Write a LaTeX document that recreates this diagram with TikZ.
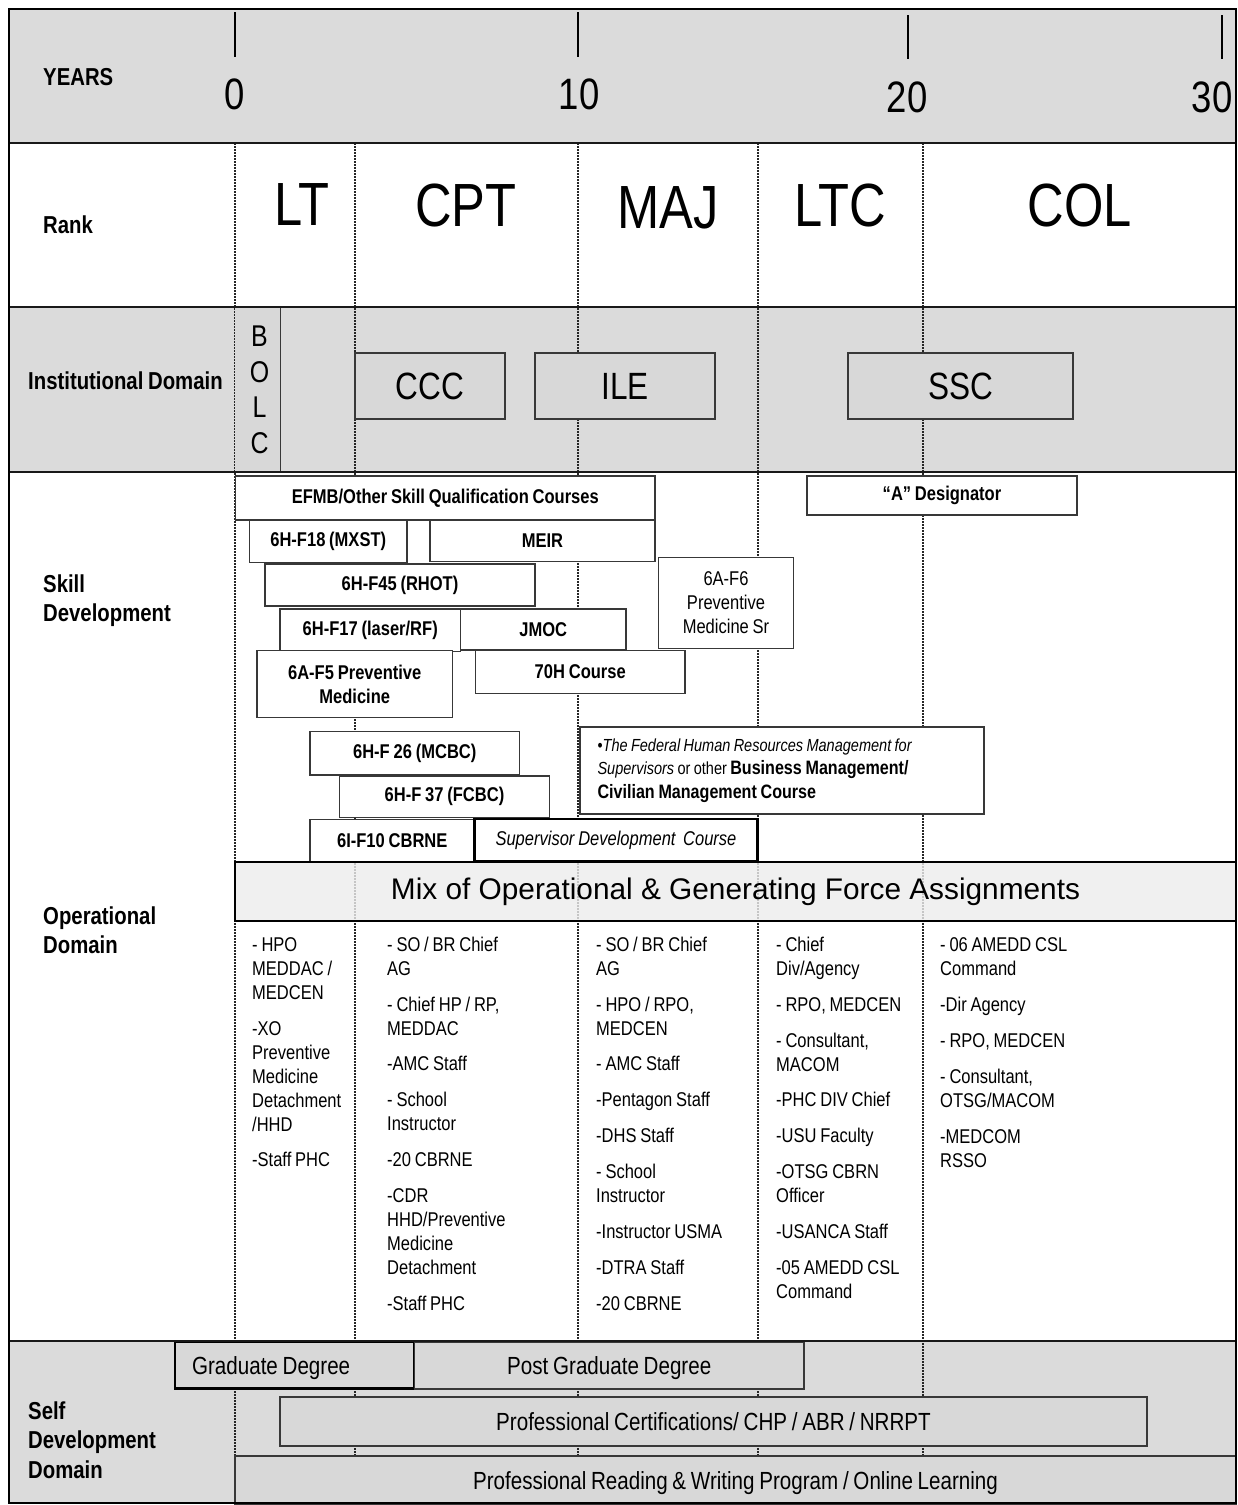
\documentclass[tikz,border=0pt]{standalone}
\usepackage{fontspec}
\setmainfont[FakeStretch=0.83, WordSpace=0.83]{Liberation Sans}
\newfontfamily\widefont{Liberation Sans}
\newcommand\myfs[2]{\fontsize{#1pt}{#2pt}\selectfont}
\newcommand\bx[7]{\node[#6, minimum width={(#4-#2)*1pt}, minimum height={(#5-#3)*1pt}] (#1) at ({(#2+#4)/2},{(#3+#5)/2}) {#7};}
\definecolor{rowgray}{HTML}{DBDBDB}
\definecolor{boxgray}{HTML}{D8D8D8}
\definecolor{bargray}{HTML}{EDEDED}
\definecolor{edgec}{HTML}{383838}
\begin{document}
\begin{tikzpicture}[x=1pt,y=-1pt,
  lbl/.style={anchor=west, align=left, inner sep=0pt, font=\myfs{24.5}{29.5}\bfseries},
  rnk/.style={inner sep=0pt, font=\myfs{61}{61}},
  yrnum/.style={inner sep=0pt, font=\myfs{44}{44}},
  yrline/.style={line width=1.2pt, dash pattern=on 1.6pt off 1.4pt, black!85},
  rowsep/.style={line width=2.5pt, black!90},
  instb/.style={draw=edgec, line width=1.3pt, fill=boxgray, font=\myfs{38}{38}},
  skb/.style={draw=edgec, line width=1.3pt, fill=white, font=\myfs{19.9}{24}\bfseries, align=center},
  opl/.style={anchor=base west, inner sep=0pt, font=\myfs{19.9}{24}},
  sdb/.style={draw=edgec, line width=1.3pt, fill=boxgray, font=\myfs{24.8}{24}, text depth=0pt},
]
\useasboundingbox (0,0) rectangle (1238,1505);
% row backgrounds
\fill[rowgray] (9,9) rectangle (1236,143);
\fill[white] (9,143) rectangle (1236,307);
\fill[rowgray] (9,307) rectangle (1236,472);
\fill[white] (9,472) rectangle (1236,1341);
\fill[rowgray] (9,1341) rectangle (1236,1503);
% dotted year lines
\foreach \gx in {235,355,578,758,923} \draw[yrline] (\gx,143) -- (\gx,1503);
% ticks
\foreach \tx/\ta/\tb in {235/12/57, 578/12/57, 908/15/59, 1222/15/59} \draw[line width=2pt] (\tx,\ta) -- (\tx,\tb);
% year numbers
\node[yrnum] (y0) at (235,94) {0};
\node[yrnum] (y10) at (579,94) {10};
\node[yrnum] (y20) at (907,97.5) {20};
\node[yrnum] (y30) at (1212,97.5) {30};
% labels
\node[lbl] (lyears) at (43,77) {YEARS};
\node[lbl] (lrank) at (43,225) {Rank};
\node[lbl] (linst) at (28,381) {Institutional Domain};
\node[lbl] (lskill) at (43,600.5) {Skill\\Development};
\node[lbl] (lop) at (43,930) {Operational\\Domain};
\node[lbl] (lself) at (28,1440) {Self\\Development\\Domain};
% ranks
\node[rnk] (lt) at (302,205) {LT};
\node[rnk] (cpt) at (466,205) {CPT};
\node[rnk] (maj) at (668,208) {MAJ};
\node[rnk] (ltc) at (840,205) {LTC};
\node[rnk] (col) at (1080,205) {COL};
% institutional
\bx{bolc}{235}{308}{280}{471}{fill=boxgray, font=\myfs{30}{35.5}, align=center, text depth=0pt}{\hspace*{4pt}B\\\hspace*{4pt}O\\\hspace*{4pt}L\\\hspace*{4pt}C}
\draw[draw=edgec, line width=1.3pt] (bolc.north west) -- (bolc.north east) -- (bolc.south east) -- (bolc.south west);
\draw[yrline] (bolc.north west) -- (bolc.south west);
\bx{ccc}{355}{353}{505}{419}{instb}{CCC}
\bx{ile}{535}{353}{715}{419}{instb}{ILE}
\bx{ssc}{848}{353}{1073}{419}{instb}{SSC}
% skill development
\bx{efmb}{235.5}{476}{655}{520}{skb}{EFMB/Other Skill Qualification Courses}
\bx{adesig}{807}{476}{1077}{515}{skb}{“A” Designator}
\bx{mxst}{249.5}{520}{407}{562.5}{skb}{6H-F18 (MXST)}
\bx{meir}{430}{520}{655}{561.5}{skb}{MEIR}
\bx{rhot}{265}{564}{535}{606}{skb}{6H-F45 (RHOT)}
\bx{laser}{280}{609}{460.5}{651.5}{skb}{6H-F17 (laser/RF)}
\bx{jmoc}{460.5}{609}{626}{650}{skb}{JMOC}
\bx{pmsr}{658.5}{557.5}{793.5}{648.5}{skb, font=\myfs{19.9}{24}}{6A-F6\\Preventive\\Medicine Sr}
\bx{pm}{257}{650.5}{452.5}{717.5}{skb}{6A-F5 Preventive\\Medicine}
\bx{c70h}{475.5}{650.5}{685}{693.5}{skb}{70H Course}
\bx{mcbc}{310}{731.5}{519.5}{775}{skb}{6H-F 26 (MCBC)}
\bx{fcbc}{339.5}{776}{549.5}{817.5}{skb}{6H-F 37 (FCBC)}
\bx{fhr}{580}{727}{984}{814}{skb}{}
\node[anchor=west, align=left, inner sep=0pt, font=\myfs{17.5}{23.5}] (fhrtext) at ([xshift=18pt]fhr.west) {•\textit{The Federal Human Resources Management for}\\\textit{Supervisors} or other {\myfs{19.4}{23.5}\bfseries Business Management/}\\{\myfs{19.4}{23.5}\bfseries Civilian Management Course}};
\bx{cbrne}{310}{819.5}{474.5}{861.5}{skb}{6I-F10 CBRNE}
\bx{sdc}{474.5}{819}{757.5}{861}{skb, draw=black, line width=2.3pt, font=\myfs{19.9}{24}\itshape}{Supervisor Development\ \ Course}
% operational
\bx{mix}{235}{862}{1236}{921}{draw=black, line width=2.5pt, fill=bargray, fill opacity=0.8, text opacity=1, font=\widefont\myfs{29.8}{29.8}}{Mix of Operational \& Generating Force Assignments}
\foreach \y/\t [count=\i] in {945/{- HPO}, 969/{MEDDAC /}, 993/{MEDCEN}, 1029/{-XO}, 1053/{Preventive}, 1077/{Medicine}, 1101/{Detachment}, 1125/{/HHD}, 1160/{-Staff PHC}}
  \node[opl] (ca\i) at (252,\y+6.5) {\t};
\foreach \y/\t [count=\i] in {945/{- SO / BR Chief}, 969/{AG}, 1005/{- Chief HP / RP,}, 1029/{MEDDAC}, 1064/{-AMC Staff}, 1100/{- School}, 1124/{Instructor}, 1160/{-20 CBRNE}, 1196/{-CDR}, 1220/{HHD/Preventive}, 1244/{Medicine}, 1268/{Detachment}, 1304/{-Staff PHC}}
  \node[opl] (cb\i) at (387,\y+6.5) {\t};
\foreach \y/\t [count=\i] in {945/{- SO / BR Chief}, 969/{AG}, 1005/{- HPO / RPO,}, 1029/{MEDCEN}, 1064/{- AMC Staff}, 1100/{-Pentagon Staff}, 1136/{-DHS Staff}, 1172/{- School}, 1196/{Instructor}, 1232/{-Instructor USMA}, 1268/{-DTRA Staff}, 1304/{-20 CBRNE}}
  \node[opl] (cc\i) at (596,\y+6.5) {\t};
\foreach \y/\t [count=\i] in {945/{- Chief}, 969/{Div/Agency}, 1005/{- RPO, MEDCEN}, 1041/{- Consultant,}, 1065/{MACOM}, 1100/{-PHC DIV Chief}, 1136/{-USU Faculty}, 1172/{-OTSG CBRN}, 1196/{Officer}, 1232/{-USANCA Staff}, 1268/{-05 AMEDD CSL}, 1292/{Command}}
  \node[opl] (cd\i) at (776,\y+6.5) {\t};
\foreach \y/\t [count=\i] in {945/{- 06 AMEDD CSL}, 969/{Command}, 1005/{-Dir Agency}, 1041/{- RPO, MEDCEN}, 1077/{- Consultant,}, 1101/{OTSG/MACOM}, 1137/{-MEDCOM}, 1161/{RSSO}}
  \node[opl] (ce\i) at (940,\y+6.5) {\t};
% self development
\bx{grad}{175}{1342}{414.5}{1388.5}{sdb, draw=black, line width=2.2pt}{}
\node[anchor=west, inner sep=0pt, font=\myfs{24.8}{24}, text depth=0pt] (gradtext) at ([xshift=18pt]grad.west) {Graduate Degree};
\bx{pgrad}{414.5}{1342}{804}{1389}{sdb}{Post Graduate Degree}
\bx{cert}{280}{1397}{1147}{1446}{sdb}{Professional Certifications/ CHP / ABR / NRRPT}
\bx{read}{235}{1456}{1236}{1504}{sdb}{Professional Reading \& Writing Program / Online Learning}
% row separators and frame
\foreach \sy in {143,307,472,1341} \draw[rowsep] (9,\sy) -- (1236,\sy);
\draw[line width=2.5pt] (9,9) rectangle (1236,1503);
\end{tikzpicture}
\end{document}
